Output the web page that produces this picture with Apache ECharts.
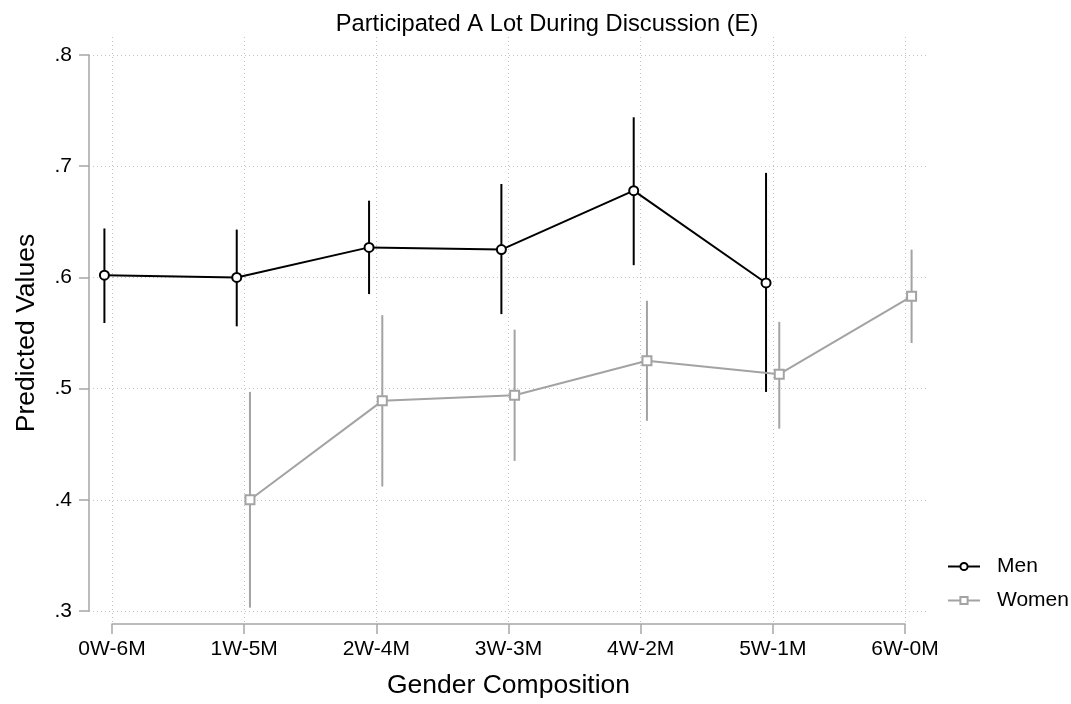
<!DOCTYPE html>
<html>
<head>
<meta charset="utf-8">
<script src="https://cdn.jsdelivr.net/npm/echarts@6/dist/echarts.min.js"></script>
<style>
html,body{margin:0;padding:0;background:#fff;}
#chart{width:1071px;height:704px;}
</style>
</head>
<body>
<div id="chart"></div>
<script>
const categories = ['0W-6M','1W-5M','2W-4M','3W-3M','4W-2M','5W-1M','6W-0M'];
const yTicks = [0.3, 0.4, 0.5, 0.6, 0.7, 0.8];

const menValues = [0.602, 0.600, 0.627, 0.625, 0.678, 0.595, null];
const menLower  = [0.559, 0.556, 0.585, 0.567, 0.611, 0.497, null];
const menUpper  = [0.644, 0.643, 0.669, 0.684, 0.744, 0.694, null];

const womenValues = [null, 0.400, 0.489, 0.494, 0.525, 0.513, 0.583];
const womenLower  = [null, 0.303, 0.412, 0.435, 0.471, 0.464, 0.541];
const womenUpper  = [null, 0.497, 0.566, 0.553, 0.579, 0.560, 0.625];

const DODGE = 0.05;
const FONT = '"Liberation Sans", Arial, Helvetica, sans-serif';
const MEN_COLOR = '#000000';
const WOMEN_COLOR = '#a3a3a3';
const AXIS_COLOR = '#a6a6a6';
const GRID_COLOR = '#c4c4c4';

function pts(vals, shift) {
  const out = [];
  vals.forEach((v, i) => { if (v !== null) out.push([i + shift, v]); });
  return out;
}
function bars(lo, hi, shift) {
  const out = [];
  lo.forEach((v, i) => { if (v !== null) out.push([i + shift, v, hi[i]]); });
  return out;
}
function errRender(color) {
  return function (params, api) {
    const p1 = api.coord([api.value(0), api.value(1)]);
    const p2 = api.coord([api.value(0), api.value(2)]);
    return {
      type: 'line',
      shape: { x1: p1[0], y1: p1[1], x2: p2[0], y2: p2[1] },
      style: { stroke: color, lineWidth: 2 }
    };
  };
}

const chart = echarts.init(document.getElementById('chart'), null, { renderer: 'canvas' });
chart.setOption({
  animation: false,
  backgroundColor: '#ffffff',
  title: {
    text: 'Participated A Lot During Discussion (E)',
    left: 542, top: 7, textAlign: 'center',
    textStyle: { fontFamily: FONT, fontSize: 23.7, fontWeight: 'normal', color: '#000' }
  },
  legend: {
    orient: 'vertical',
    left: 942, top: 551,
    itemWidth: 32, itemHeight: 9, itemGap: 13,
    textStyle: { fontFamily: FONT, fontSize: 21, color: '#000', padding: [0, 0, 0, 12] },
    data: ['Men', 'Women']
  },
  grid: [
    { left: 89, right: 145, top: 55, bottom: 93, containLabel: false },
    { left: 112, right: 166, top: 37, bottom: 76, containLabel: false }
  ],
  xAxis: [
    { type: 'value', gridIndex: 0, min: -22 / 132.17, max: 6 + 21 / 132.17,
      show: false, splitLine: { show: false } },
    { type: 'value', gridIndex: 1, min: 0, max: 6, interval: 1,
      axisLine: { show: true, onZero: false, lineStyle: { color: AXIS_COLOR, width: 1.5 } },
      axisTick: { show: true, length: 10, lineStyle: { color: AXIS_COLOR, width: 1.5 } },
      axisLabel: { margin: 15, fontFamily: FONT, fontSize: 21, color: '#000',
        formatter: v => categories[Math.round(v)] || '' },
      splitLine: { show: true, lineStyle: { color: GRID_COLOR, type: [1, 3], width: 1 } },
      name: 'Gender Composition', nameLocation: 'middle', nameGap: 48,
      nameTextStyle: { fontFamily: FONT, fontSize: 26.5, color: '#000' }
    }
  ],
  yAxis: [
    { type: 'value', gridIndex: 0, min: 0.3, max: 0.8, interval: 0.1,
      axisLine: { show: true, onZero: false, lineStyle: { color: AXIS_COLOR, width: 1.5 } },
      axisTick: { show: true, length: 10, lineStyle: { color: AXIS_COLOR, width: 1.5 } },
      axisLabel: { margin: 17, fontFamily: FONT, fontSize: 21, color: '#000',
        formatter: v => {
          const t = yTicks.find(k => Math.abs(k - v) < 1e-6);
          return t === undefined ? '' : t.toFixed(1).replace(/^0/, '');
        } },
      splitLine: { show: true, lineStyle: { color: GRID_COLOR, type: [1, 3], width: 1 } },
      name: 'Predicted Values', nameLocation: 'middle', nameGap: 49, nameRotate: 90,
      nameTextStyle: { fontFamily: FONT, fontSize: 26.5, color: '#000' }
    },
    { type: 'value', gridIndex: 1, min: 0, max: 1, show: false, splitLine: { show: false } }
  ],
  series: [
    { type: 'custom', name: 'menCI', xAxisIndex: 0, yAxisIndex: 0,
      renderItem: errRender(MEN_COLOR), data: bars(menLower, menUpper, -DODGE), z: 2 },
    { type: 'custom', name: 'womenCI', xAxisIndex: 0, yAxisIndex: 0,
      renderItem: errRender(WOMEN_COLOR), data: bars(womenLower, womenUpper, DODGE), z: 2 },
    { type: 'line', name: 'Men', xAxisIndex: 0, yAxisIndex: 0,
      data: pts(menValues, -DODGE), symbol: 'circle', symbolSize: 9,
      itemStyle: { color: '#ffffff', borderColor: MEN_COLOR, borderWidth: 2 },
      lineStyle: { color: MEN_COLOR, width: 2 }, z: 3 },
    { type: 'line', name: 'Women', xAxisIndex: 0, yAxisIndex: 0,
      data: pts(womenValues, DODGE), symbol: 'rect', symbolSize: 9,
      itemStyle: { color: '#ffffff', borderColor: WOMEN_COLOR, borderWidth: 2 },
      lineStyle: { color: WOMEN_COLOR, width: 2 }, z: 3 }
  ]
});
</script>
</body>
</html>
